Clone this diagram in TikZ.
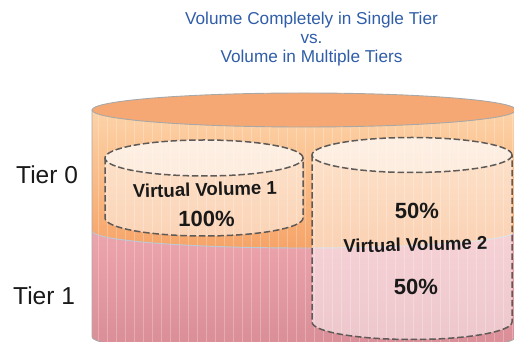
\documentclass[tikz,border=0pt]{standalone}
\usepackage{fontspec}
\setmainfont{Liberation Sans}
\definecolor{titleblue}{HTML}{2F5DA8}
\definecolor{lidorange}{HTML}{F5A873}
\definecolor{peachtop}{HTML}{FDD3A8}
\definecolor{peachbot}{HTML}{F6A468}
\definecolor{pinktop}{HTML}{EDA5AD}
\definecolor{pinkbot}{HTML}{D88C95}
\definecolor{rimgray}{HTML}{A8A8A8}
\definecolor{dashgray}{HTML}{5E5A58}
\definecolor{seamblue}{HTML}{B9CAD6}
\tikzset{
  x=1pt, y=1pt,
  titletext/.style={text=titleblue, font=\fontsize{17.2}{19}\selectfont, anchor=base, inner sep=0pt},
  tiertext/.style={text=black!90, font=\fontsize{24.5}{26}\selectfont, anchor=base west, inner sep=0pt},
  vvname/.style={text=black!90, font=\bfseries\fontsize{18.6}{20}\selectfont, anchor=base, inner sep=0pt, rotate=1.5},
  vvpct/.style={text=black!90, font=\bfseries\fontsize{22}{24}\selectfont, anchor=base, inner sep=0pt},
  vvline/.style={draw=dashgray, line width=1.5pt, dash pattern=on 6.5pt off 2.8pt},
  stripe/.style={draw=white, opacity=0.25, line width=0.7pt},
}
\begin{document}
\begin{tikzpicture}
\useasboundingbox (0,0) rectangle (514,342);
\clip (0,0) rectangle (514,342);

% Tier 0 band of the storage pool
\shade[top color=peachtop, bottom color=peachbot]
  (92,232) -- (92,111) arc[start angle=180, end angle=360, x radius=212, y radius=17]
  -- (516,232) -- cycle;
% Tier 1 band of the storage pool
\shade[top color=pinktop, bottom color=pinkbot]
  (92,111) arc[start angle=180, end angle=360, x radius=212, y radius=17]
  -- (516,5) arc[start angle=0, end angle=-180, x radius=212, y radius=17] -- cycle;

% faint vertical texture on the pool wall
\begin{scope}
  \clip (92,232) -- (92,5) arc[start angle=180, end angle=360, x radius=212, y radius=17]
    -- (516,232) -- cycle;
  \foreach \sx in {98,107,...,512} \draw[stripe] (\sx,-20) -- (\sx,232);
\end{scope}

% seam between the tiers and the pool outline
\draw[seamblue, line width=0.9pt] (92,111) arc[start angle=180, end angle=360, x radius=212, y radius=17];
\draw[rimgray, line width=0.8pt] (92,232) -- (92,5) arc[start angle=180, end angle=360, x radius=212, y radius=17];
\draw[rimgray, line width=0.8pt] (516,232) -- (516,5);
\filldraw[fill=lidorange, draw=rimgray, line width=0.9pt] (304,232) ellipse[x radius=212, y radius=17];

% Virtual Volume 1 (entirely in Tier 0)
\fill[white, opacity=0.5]
  (105,184) -- (105,124) arc[start angle=180, end angle=360, x radius=99, y radius=18]
  -- (303,184) arc[start angle=0, end angle=180, x radius=99, y radius=18] -- cycle;
\fill[white, opacity=0.45] (204,184) ellipse[x radius=99, y radius=18];
\draw[vvline] (105,184) -- (105,124) arc[start angle=180, end angle=360, x radius=99, y radius=18] -- (303,184);
\draw[vvline] (204,184) ellipse[x radius=99, y radius=18];

% Virtual Volume 2 (spread over both tiers)
\fill[white, opacity=0.5]
  (312,187) -- (312,20) arc[start angle=180, end angle=360, x radius=100, y radius=17.5]
  -- (512,187) arc[start angle=0, end angle=180, x radius=100, y radius=17.5] -- cycle;
\fill[white, opacity=0.45] (412,187) ellipse[x radius=100, y radius=17.5];
\draw[vvline] (312,187) -- (312,20) arc[start angle=180, end angle=360, x radius=100, y radius=17.5] -- (512,187);
\draw[vvline] (412,187) ellipse[x radius=100, y radius=17.5];

% labels
\node[titletext] (t1) at (311.5,317) {Volume Completely in Single Tier};
\node[titletext] (t2) at (311.5,298) {vs.};
\node[titletext] (t3) at (311.5,279) {Volume in Multiple Tiers};
\node[tiertext] (tier0) at (16,158) {Tier 0};
\node[tiertext] (tier1) at (13,37) {Tier 1};
\node[vvname] (vv1) at (205,146) {Virtual Volume 1};
\node[vvpct] (vv1pct) at (206.5,115) {100\%};
\node[vvpct] (vv2top) at (417,123) {50\%};
\node[vvname] (vv2) at (415.5,91) {Virtual Volume 2};
\node[vvpct] (vv2bot) at (416,47) {50\%};
\end{tikzpicture}
\end{document}
